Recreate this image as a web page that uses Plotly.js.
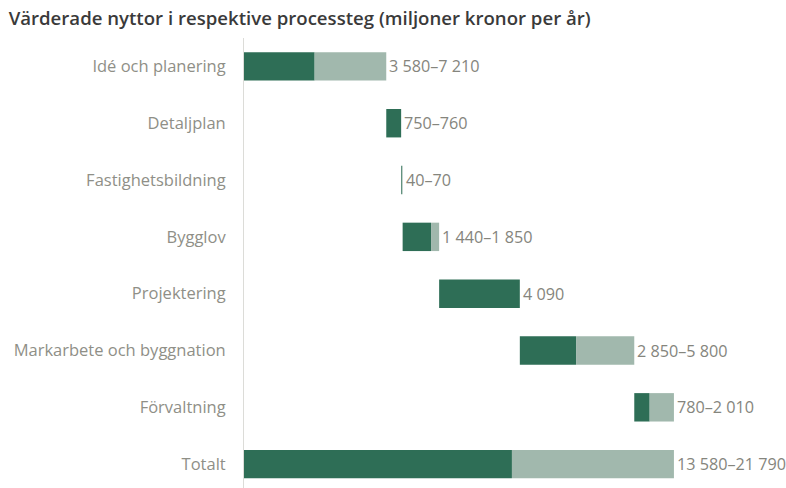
<!DOCTYPE html>
<html><head><meta charset="utf-8">
<script src="https://cdn.plot.ly/plotly-3.0.1.min.js"></script>
<style>html,body{margin:0;padding:0;background:#fff;}#chart{width:786px;height:488px;}</style>
</head><body><div id="chart"></div>
<script>
const categories = ["Idé och planering","Detaljplan","Fastighetsbildning","Bygglov","Projektering","Markarbete och byggnation","Förvaltning","Totalt"];
const lowValues  = [3580, 750, 40, 1440, 4090, 2850, 780, 13580];
const highValues = [7210, 760, 70, 1850, 4090, 5800, 2010, 21790];
const valueLabels = ["3 580–7 210","750–760","40–70","1 440–1 850","4 090","2 850–5 800","780–2 010","13 580–21 790"];

// waterfall bases: each step starts where the previous step's high value ended; total starts at 0
const bases = [];
let cum = 0;
for (let i = 0; i < categories.length; i++) {
  if (categories[i] === "Totalt") { bases.push(0); }
  else { bases.push(cum); cum += highValues[i]; }
}
const lightLen = highValues.map((h, i) => h - lowValues[i]);
const ends = highValues.map((h, i) => bases[i] + h);
const lightBase = bases.map((b, i) => b + lowValues[i]);

const DARK = "#2e6e56", LIGHT = "#a1b8ad", TXT = "#85857d";
const FONT = "Open Sans, sans-serif";

const traces = [
  {type:"bar", orientation:"h", y:categories, x:lowValues, base:bases, width:0.5,
   marker:{color:DARK, line:{width:0}}, hoverinfo:"skip"},
  {type:"bar", orientation:"h", y:categories, x:lightLen, base:lightBase, width:0.5,
   marker:{color:LIGHT, line:{width:0}}, hoverinfo:"skip"}
];

const annotations = categories.map((c, i) => ({
  x: ends[i], y: c, xref:"x", yref:"y", text: valueLabels[i], showarrow:false,
  xanchor:"left", yanchor:"middle", xshift:1,
  font:{family:FONT, size:16.2, color:TXT}
}));

const layout = {
  width:786, height:488,
  margin:{l:244, r:0, t:38, b:0},
  paper_bgcolor:"#fff", plot_bgcolor:"#fff",
  barmode:"overlay", showlegend:false,
  title:{text:"Värderade nyttor i respektive processteg (miljoner kronor per år)",
         x:0.011, xanchor:"left", y:0.963, yanchor:"middle",
         font:{family:FONT, size:18.6, color:"#3a3a3a", weight:600}},
  xaxis:{range:[0, 27470], visible:false, showgrid:false, zeroline:false, fixedrange:true},
  yaxis:{type:"category", categoryorder:"array", categoryarray:categories,
         range:[7.42, -0.5], showline:true, linecolor:"#dcdcd8", linewidth:1,
         showgrid:false, zeroline:false, ticks:"", ticklabelstandoff:14,
         tickfont:{family:FONT, size:16.5, color:"#8f8f87"}},
  annotations: annotations
};

Plotly.newPlot("chart", traces, layout, {staticPlot:true, displayModeBar:false});
</script></body></html>
